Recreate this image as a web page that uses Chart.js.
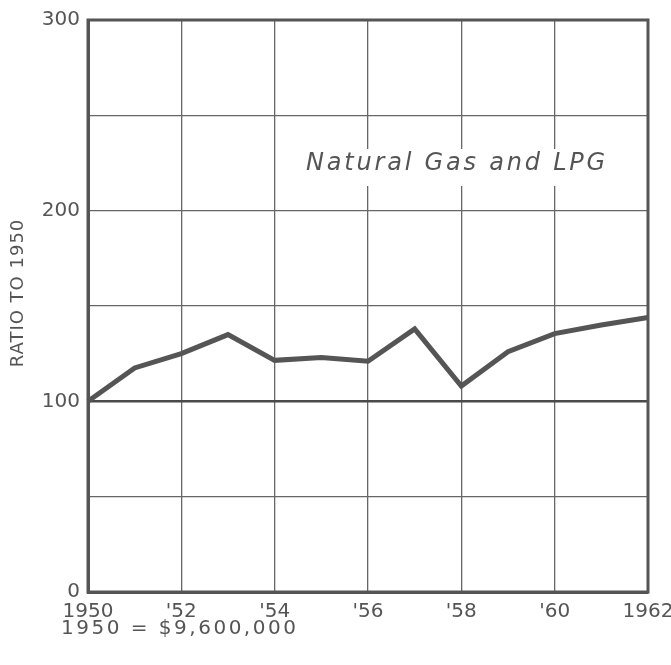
<!DOCTYPE html>
<html>
<head>
<meta charset="utf-8">
<script src="https://cdn.jsdelivr.net/npm/chart.js@4/dist/chart.umd.min.js"></script>
<style>
  html, body { margin: 0; padding: 0; background: #fff; }
  #wrap { width: 671px; height: 665px; position: relative; }
</style>
</head>
<body>
<div id="wrap"><canvas id="c" width="671" height="665"></canvas></div>
<script>
const years = [1950, 1951, 1952, 1953, 1954, 1955, 1956, 1957, 1958, 1959, 1960, 1961, 1962];
const ratios = [100, 117.5, 125, 135, 121.5, 123, 121, 138, 108, 126, 135.5, 140, 144];
const xTickLabels = {1950: '1950', 1952: "'52", 1954: "'54", 1956: "'56", 1958: "'58", 1960: "'60", 1962: '1962'};
const yTickLabels = {0: '0', 100: '100', 200: '200', 300: '300'};
const seriesTitle = 'Natural Gas and LPG';
const baseNote = '1950 = $9,600,000';
const axisTitle = 'RATIO TO 1950';

const FONT = "'DejaVu Sans', sans-serif";
const INK = '#555555';

const extras = {
  id: 'extras',
  beforeDatasetsDraw(chart) {
    const ctx = chart.ctx;
    const a = chart.chartArea;
    ctx.save();
    // frame
    ctx.strokeStyle = '#555';
    ctx.lineWidth = 3;
    ctx.strokeRect(a.left, a.top, a.right - a.left, a.bottom - a.top);
    // white box behind the series label
    ctx.fillStyle = '#ffffff';
    ctx.fillRect(298, 149, 318, 37);
    ctx.fillStyle = INK;
    ctx.font = "italic 24px " + FONT;
    ctx.letterSpacing = '2.8px';
    ctx.textAlign = 'center';
    ctx.textBaseline = 'middle';
    ctx.fillText(seriesTitle, 457, 164);
    ctx.restore();
  },
  afterDraw(chart) {
    const ctx = chart.ctx;
    ctx.save();
    ctx.fillStyle = INK;
    ctx.font = "20px " + FONT;
    ctx.letterSpacing = '2.5px';
    ctx.textAlign = 'left';
    ctx.textBaseline = 'middle';
    ctx.fillText(baseNote, 61, 629);
    ctx.translate(18, 293);
    ctx.rotate(-Math.PI / 2);
    ctx.textAlign = 'center';
    ctx.font = "18px " + FONT;
    ctx.letterSpacing = '1px';
    ctx.fillText(axisTitle, 0, 0);
    ctx.restore();
  }
};

new Chart(document.getElementById('c'), {
  type: 'line',
  data: {
    datasets: [{
      data: years.map((y, i) => ({x: y, y: ratios[i]})),
      borderColor: '#555555',
      borderWidth: 5,
      pointRadius: 0,
      tension: 0,
      borderJoinStyle: 'miter',
      clip: false
    }]
  },
  options: {
    responsive: false,
    animation: false,
    devicePixelRatio: 1,
    layout: { padding: { left: 0, top: 20, right: 23, bottom: 0 } },
    plugins: { legend: { display: false }, tooltip: { enabled: false } },
    scales: {
      x: {
        type: 'linear',
        min: 1950, max: 1962,
        afterFit(s) { s.height = 73; s.paddingRight = 0; s.paddingLeft = 0; },
        border: { display: true, color: '#555', width: 3 },
        grid: { color: '#666', lineWidth: 1.3, drawTicks: false },
        ticks: {
          stepSize: 2,
          padding: 8,
          color: INK,
          font: { family: FONT, size: 20 },
          maxRotation: 0,
          autoSkip: false,
          callback: v => xTickLabels[v] !== undefined ? xTickLabels[v] : ''
        }
      },
      y: {
        min: 0, max: 300,
        afterFit(s) { s.width = 88; s.paddingTop = 0; s.paddingBottom = 0; },
        border: { display: true, color: '#555', width: 3 },
        grid: {
          color: ctx => (ctx.tick && ctx.tick.value === 100) ? '#4a4a4a' : '#666',
          lineWidth: ctx => (ctx.tick && ctx.tick.value === 100) ? 2.6 : 1.3,
          drawTicks: false
        },
        ticks: {
          stepSize: 50,
          padding: 8,
          color: INK,
          font: { family: FONT, size: 20 },
          callback: v => yTickLabels[v] !== undefined ? yTickLabels[v] : ''
        }
      }
    }
  },
  plugins: [extras]
});
</script>
</body>
</html>
